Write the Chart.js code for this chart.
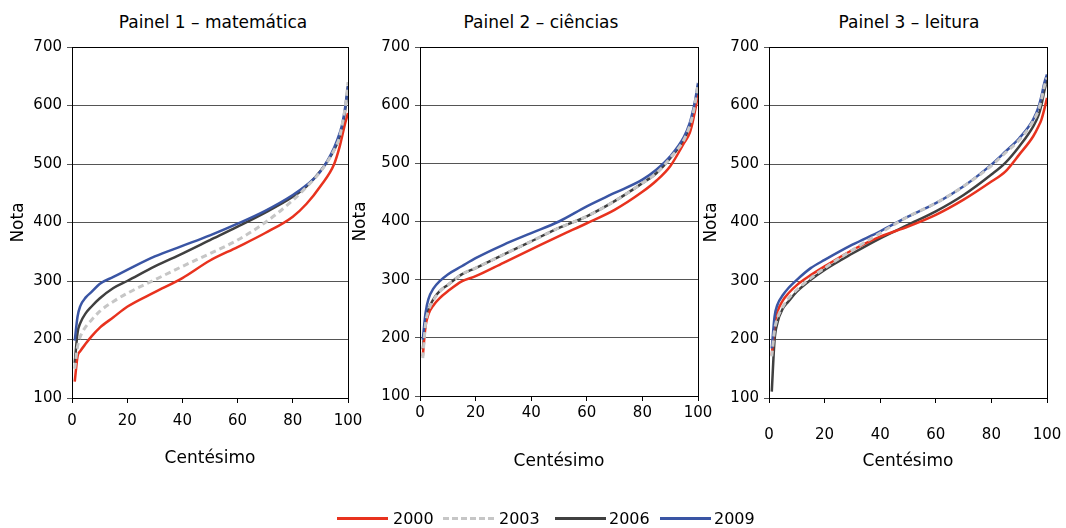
<!DOCTYPE html>
<html>
<head>
<meta charset="utf-8">
<script src="https://cdn.jsdelivr.net/npm/chart.js@4.4.1/dist/chart.umd.min.js"></script>
<style>
  html, body { margin: 0; padding: 0; background: #fff; }
  body { width: 1066px; height: 528px; position: relative; overflow: hidden; font-family: "DejaVu Sans", sans-serif; color: #000; }
  canvas { position: absolute; top: 0; }
  .ptitle { position: absolute; top: 12px; font-size: 17px; line-height: 20px; white-space: nowrap; transform: translateX(-50%); }
  .sw { position: absolute; top: 517px; width: 51px; height: 0; }
  .lab { position: absolute; top: 509px; font-size: 16px; line-height: 20px; white-space: nowrap; }
</style>
</head>
<body>
<div class="ptitle" style="left:213px">Painel 1 – matemática</div>
<div class="ptitle" style="left:541px">Painel 2 – ciências</div>
<div class="ptitle" style="left:909px">Painel 3 – leitura</div>
<canvas id="c1" width="375" height="528" style="left:0px;width:375px;height:528px"></canvas>
<canvas id="c2" width="385" height="528" style="left:340px;width:385px;height:528px"></canvas>
<canvas id="c3" width="366" height="528" style="left:700px;width:366px;height:528px"></canvas>
<div id="legend">
  <span class="sw" style="left:337px;border-top:3px solid #e8321e"></span><span class="lab" style="left:393px">2000</span>
  <span class="sw" style="left:443px;border-top:3px dashed #c6c6c6"></span><span class="lab" style="left:499px">2003</span>
  <span class="sw" style="left:555px;border-top:3px solid #404040"></span><span class="lab" style="left:609px">2006</span>
  <span class="sw" style="left:660px;border-top:3px solid #3a55a4"></span><span class="lab" style="left:714px">2009</span>
</div>
<script>
// Percentiles (Centésimo)
const percentiles = [1, 2, 3, 5, 7, 10, 15, 20, 30, 40, 50, 60, 70, 80, 85, 90, 95, 97, 98, 99, 100];
const years = ["2000", "2003", "2006", "2009"];
const yTicks = [100, 200, 300, 400, 500, 600, 700];
const xTicks = [0, 20, 40, 60, 80, 100];

// Painel 1 – matemática
const mat2000 = [128, 171, 180, 193, 205, 220, 238, 256, 281, 305, 335, 358, 382, 410, 432, 462, 500, 530, 550, 570, 587];
const mat2003 = [150, 188, 205, 222, 233, 248, 265, 279, 302, 325, 347, 370, 400, 438, 461, 487, 524, 547, 570, 598, 640];
const mat2006 = [160, 211, 228, 245, 256, 270, 288, 300, 325, 347, 370, 393, 417, 444, 462, 488, 524, 547, 564, 593, 633];
const mat2009 = [198, 239, 257, 272, 281, 295, 307, 319, 342, 360, 378, 398, 420, 447, 464, 487, 528, 553, 570, 598, 633];

// Painel 2 – ciências
const cie2000 = [168, 220, 240, 257, 268, 280, 297, 306, 329, 352, 375, 397, 420, 451, 470, 495, 535, 552, 569, 592, 618];
const cie2003 = [165, 224, 246, 266, 279, 291, 309, 320, 343, 366, 389, 409, 435, 466, 483, 509, 541, 564, 581, 604, 638];
const cie2006 = [180, 226, 248, 268, 280, 291, 309, 320, 343, 366, 389, 409, 435, 466, 483, 509, 541, 564, 581, 604, 632];
const cie2009 = [197, 243, 266, 286, 297, 309, 323, 337, 360, 380, 400, 426, 449, 472, 489, 512, 546, 569, 587, 609, 638];

// Painel 3 – leitura
const lei2000 = [173, 225, 247, 267, 279, 293, 310, 325, 353, 376, 393, 413, 439, 470, 487, 516, 547, 565, 576, 593, 613];
const lei2003 = [171, 216, 236, 256, 270, 285, 305, 322, 353, 382, 410, 433, 462, 497, 519, 541, 573, 593, 610, 632, 648];
const lei2006 = [111, 199, 228, 253, 265, 282, 302, 319, 347, 373, 396, 419, 447, 482, 502, 530, 564, 584, 601, 624, 644];
const lei2009 = [185, 239, 259, 276, 288, 302, 322, 336, 362, 385, 410, 433, 462, 499, 521, 544, 576, 598, 616, 638, 653];

const FONT = "'DejaVu Sans', sans-serif";
const styles = [
  { color: "#e8321e", dash: [], width: 2.5, order: 2 },
  { color: "#c6c6c6", dash: [6, 4], width: 3, order: 0 },
  { color: "#404040", dash: [], width: 2.5, order: 3 },
  { color: "#3a55a4", dash: [], width: 2.5, order: 1 }
];

const boxPlugin = {
  id: "box",
  afterDatasetsDraw(chart) {
    const a = chart.chartArea, ctx = chart.ctx;
    ctx.save();
    ctx.strokeStyle = "#000";
    ctx.lineWidth = 1;
    ctx.strokeRect(Math.round(a.left) + 0.5, Math.round(a.top) + 0.5, Math.round(a.right - a.left), Math.round(a.bottom - a.top));
    ctx.restore();
  }
};

function makeChart(id, series, cfg) {
  const datasets = series.map((vals, i) => ({
    label: years[i],
    data: percentiles.map((p, k) => ({ x: p, y: vals[k] })),
    borderColor: styles[i].color,
    borderWidth: styles[i].width,
    borderDash: styles[i].dash,
    order: styles[i].order,
    pointRadius: 0,
    fill: false,
    cubicInterpolationMode: "monotone"
  }));
  return new Chart(document.getElementById(id), {
    type: "line",
    data: { datasets },
    plugins: [boxPlugin],
    options: {
      responsive: false,
      animation: false,
      events: [],
      layout: { padding: { left: 0, right: cfg.padRight, top: 47, bottom: cfg.padBottom } },
      plugins: { legend: { display: false }, tooltip: { enabled: false }, title: { display: false } },
      scales: {
        x: {
          type: "linear", min: 0, max: 100,
          afterBuildTicks: s => { s.ticks = xTicks.map(v => ({ value: v })); },
          grid: { display: true, drawOnChartArea: false, drawTicks: true, tickLength: 5, color: "#000" },
          border: { display: true, color: "#000" },
          ticks: { font: { family: FONT, size: 15 }, color: "#000", padding: cfg.xTickPad, maxRotation: 0 },
          title: { display: true, text: "Centésimo", font: { family: FONT, size: 17 }, color: "#000", padding: 0 },
          afterFit: s => { s.height = cfg.xHeight; s.paddingLeft = 0; s.paddingRight = 0; }
        },
        y: {
          min: 100, max: 700,
          afterBuildTicks: s => { s.ticks = yTicks.map(v => ({ value: v })); },
          grid: { color: "#555", lineWidth: 1, tickLength: 5, drawTicks: true },
          border: { display: true, color: "#000" },
          ticks: { font: { family: FONT, size: 15 }, color: "#000", padding: 5 },
          title: { display: true, text: "Nota", font: { family: FONT, size: 17 }, color: "#000", padding: { top: cfg.titlePad, bottom: 0 } },
          afterFit: s => { s.width = cfg.yWidth; }
        }
      }
    }
  });
}

makeChart("c1", [mat2000, mat2003, mat2006, mat2009], { yWidth: 72, titlePad: 8, padRight: 27, padBottom: 59, xHeight: 71, xTickPad: 9 });
makeChart("c2", [cie2000, cie2003, cie2006, cie2009], { yWidth: 80, titlePad: 10, padRight: 27, padBottom: 56, xHeight: 76, xTickPad: 3 });
makeChart("c3", [lei2000, lei2003, lei2006, lei2009], { yWidth: 69, titlePad: 1, padRight: 19, padBottom: 56, xHeight: 74, xTickPad: 23 });
</script>
</body>
</html>
